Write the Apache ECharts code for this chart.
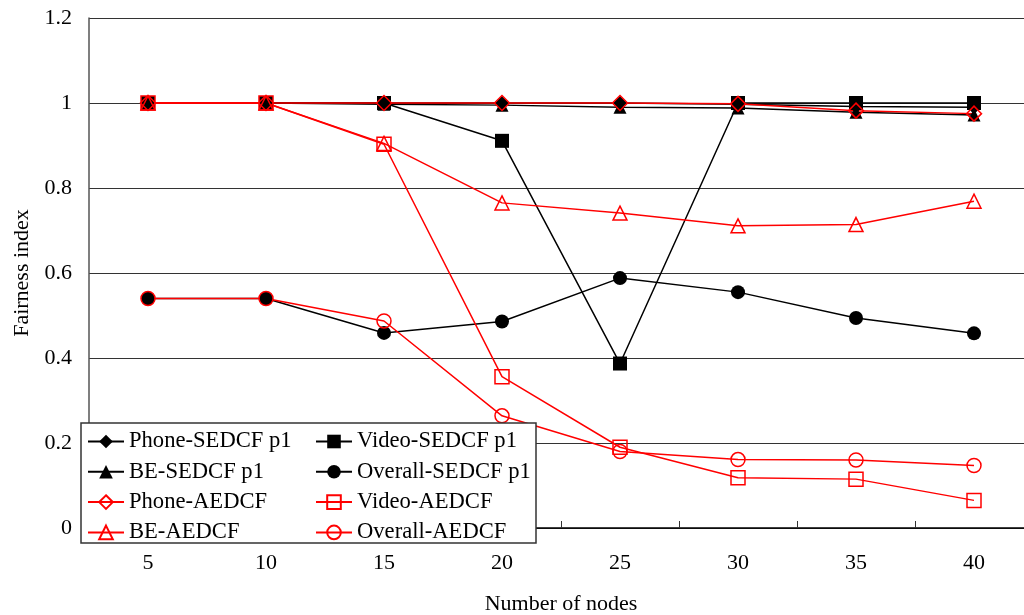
<!DOCTYPE html>
<html>
<head>
<meta charset="utf-8">
<script src="https://cdn.jsdelivr.net/npm/echarts@6/dist/echarts.min.js"></script>
<style>html,body{margin:0;padding:0;background:#fff}#c{width:1024px;height:615px}</style>
</head>
<body>
<div id="c"></div>
<script>
var categories = ['5', '10', '15', '20', '25', '30', '35', '40'];
var phoneSEDCF   = [1, 1, 1, 1, 1, 0.997, 0.992, 0.99];
var videoSEDCF   = [1, 1, 1, 0.911, 0.387, 1, 1, 1];
var beSEDCF      = [1, 1, 0.997, 0.995, 0.99, 0.988, 0.978, 0.972];
var overallSEDCF = [0.54, 0.54, 0.459, 0.486, 0.588, 0.555, 0.494, 0.458];
var phoneAEDCF   = [1, 1, 1, 1, 1, 0.998, 0.982, 0.975];
var videoAEDCF   = [1, 1, 0.903, 0.356, 0.19, 0.118, 0.115, 0.065];
var beAEDCF      = [1, 1, 0.905, 0.765, 0.741, 0.711, 0.714, 0.769];
var overallAEDCF = [0.54, 0.54, 0.487, 0.264, 0.18, 0.161, 0.16, 0.147];
var yTicks = { min: 0, max: 1.2, interval: 0.2 };

var FONT = 'Liberation Serif';
function blackSeries(name, data, symbol, size) {
  return {
    name: name, type: 'line', data: data, symbol: symbol, symbolSize: size,
    lineStyle: { color: '#000', width: 1.5 },
    itemStyle: { color: '#000' },
    animation: false
  };
}
function redSeries(name, data, symbol, size) {
  return {
    name: name, type: 'line', data: data, symbol: symbol, symbolSize: size,
    lineStyle: { color: '#ff0000', width: 1.5 },
    itemStyle: { color: 'rgba(255,255,255,0)', borderColor: '#ff0000', borderWidth: 1.5 },
    animation: false
  };
}
var chart = echarts.init(document.getElementById('c'));
chart.setOption({
  backgroundColor: '#fff',
  animation: false,
  grid: { left: 89, top: 18, right: -9, bottom: 87, outerBoundsMode: 'none', containLabel: false },
  xAxis: {
    type: 'category', data: categories, boundaryGap: true,
    axisLine: { lineStyle: { color: '#000', width: 1.5 } },
    axisTick: { show: true, inside: true, length: 7, lineStyle: { color: '#333' } },
    axisLabel: { fontFamily: FONT, fontSize: 22, color: '#000', margin: 24 },
    name: 'Number of nodes', nameLocation: 'middle', nameGap: 65,
    nameTextStyle: { fontFamily: FONT, fontSize: 22, color: '#000' }
  },
  yAxis: {
    type: 'value', min: yTicks.min, max: yTicks.max, interval: yTicks.interval,
    axisLine: { show: true, lineStyle: { color: '#555', width: 1.5 } },
    axisTick: { show: false },
    axisLabel: { fontFamily: FONT, fontSize: 22, color: '#000', margin: 17 },
    splitLine: { show: true, lineStyle: { color: '#333', width: 1 } },
    name: 'Fairness index', nameLocation: 'middle', nameGap: 56,
    nameTextStyle: { fontFamily: FONT, fontSize: 22, color: '#000' }
  },
  graphic: [{
    type: 'rect', z: 5,
    shape: { x: 81, y: 423, width: 455, height: 120 },
    style: { fill: '#fff', stroke: '#333', lineWidth: 1.5 }
  }],
  legend: [{
    z: 6, orient: 'vertical', left: 87, top: 430, padding: 0,
    itemWidth: 36, itemHeight: 17, itemGap: 7.3,
    textStyle: { fontFamily: FONT, fontSize: 22.6, color: '#000', lineHeight: 22 },
    data: ['Phone-SEDCF p1', 'BE-SEDCF p1', 'Phone-AEDCF', 'BE-AEDCF']
  }, {
    z: 6, orient: 'vertical', left: 315, top: 430, padding: 0,
    itemWidth: 36, itemHeight: 17, itemGap: 7.3,
    textStyle: { fontFamily: FONT, fontSize: 22.6, color: '#000', lineHeight: 22 },
    data: ['Video-SEDCF p1', 'Overall-SEDCF p1', 'Video-AEDCF', 'Overall-AEDCF']
  }],
  series: [
    blackSeries('Phone-SEDCF p1', phoneSEDCF, 'diamond', 14),
    blackSeries('BE-SEDCF p1', beSEDCF, 'triangle', 13),
    blackSeries('Video-SEDCF p1', videoSEDCF, 'rect', 14),
    blackSeries('Overall-SEDCF p1', overallSEDCF, 'circle', 14),
    redSeries('Video-AEDCF', videoAEDCF, 'rect', 14),
    redSeries('BE-AEDCF', beAEDCF, 'triangle', 14),
    redSeries('Overall-AEDCF', overallAEDCF, 'circle', 14),
    redSeries('Phone-AEDCF', phoneAEDCF, 'diamond', 15)
  ]
});
</script>
</body>
</html>
